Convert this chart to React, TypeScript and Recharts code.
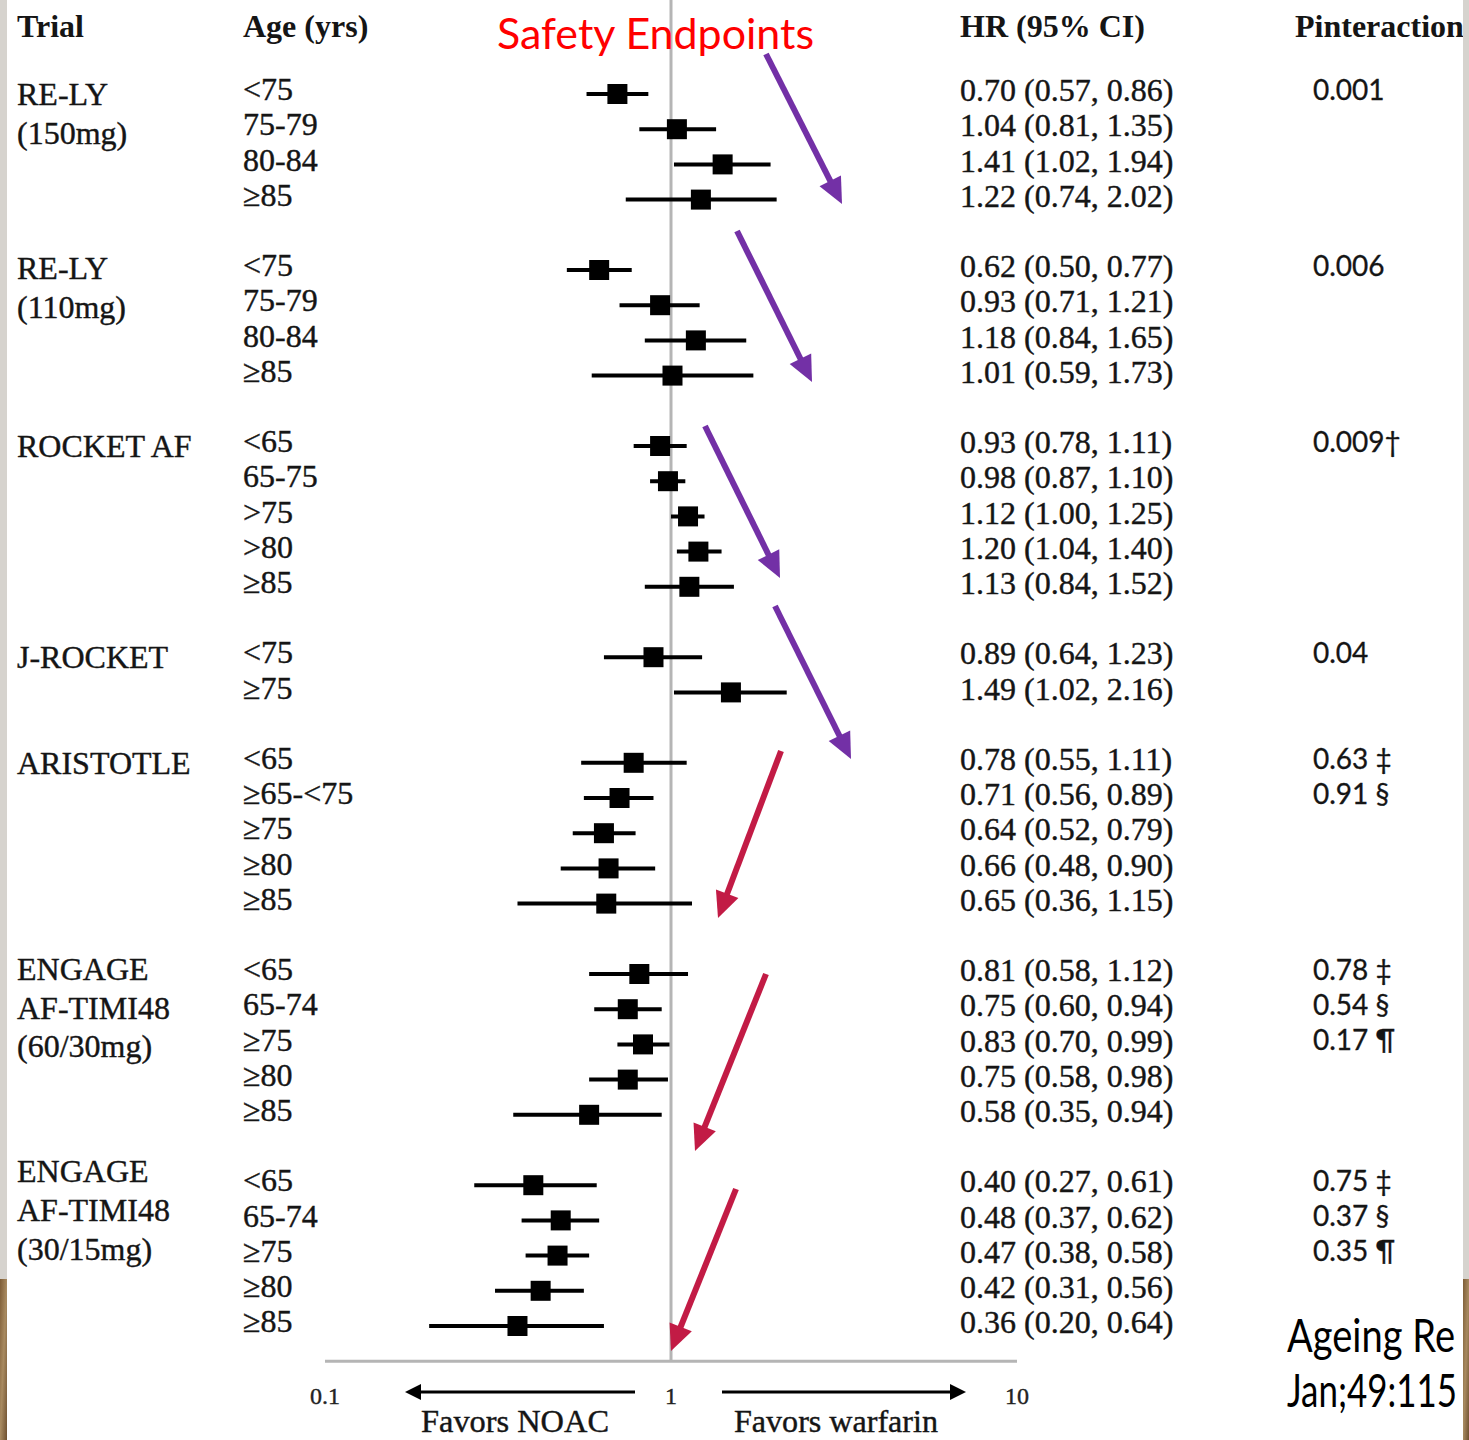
import React from "react";
import {
  ScatterChart,
  Scatter,
  XAxis,
  YAxis,
  ReferenceLine,
  ErrorBar,
} from "recharts";

// one entry per trial, in drawing order
const trialNames = [
  ["RE-LY", "(150mg)"],
  ["RE-LY", "(110mg)"],
  ["ROCKET AF"],
  ["J-ROCKET"],
  ["ARISTOTLE"],
  ["ENGAGE", "AF-TIMI48", "(60/30mg)"],
  ["ENGAGE", "AF-TIMI48", "(30/15mg)"],
];

const ageGroups = [
  ["<75", "75-79", "80-84", "≥85"],
  ["<75", "75-79", "80-84", "≥85"],
  ["<65", "65-75", ">75", ">80", "≥85"],
  ["<75", "≥75"],
  ["<65", "≥65-<75", "≥75", "≥80", "≥85"],
  ["<65", "65-74", "≥75", "≥80", "≥85"],
  ["<65", "65-74", "≥75", "≥80", "≥85"],
];

const hazardRatios = [
  [0.7, 1.04, 1.41, 1.22],
  [0.62, 0.93, 1.18, 1.01],
  [0.93, 0.98, 1.12, 1.2, 1.13],
  [0.89, 1.49],
  [0.78, 0.71, 0.64, 0.66, 0.65],
  [0.81, 0.75, 0.83, 0.75, 0.58],
  [0.4, 0.48, 0.47, 0.42, 0.36],
];

const ciLower = [
  [0.57, 0.81, 1.02, 0.74],
  [0.5, 0.71, 0.84, 0.59],
  [0.78, 0.87, 1.0, 1.04, 0.84],
  [0.64, 1.02],
  [0.55, 0.56, 0.52, 0.48, 0.36],
  [0.58, 0.6, 0.7, 0.58, 0.35],
  [0.27, 0.37, 0.38, 0.31, 0.2],
];

const ciUpper = [
  [0.86, 1.35, 1.94, 2.02],
  [0.77, 1.21, 1.65, 1.73],
  [1.11, 1.1, 1.25, 1.4, 1.52],
  [1.23, 2.16],
  [1.11, 0.89, 0.79, 0.9, 1.15],
  [1.12, 0.94, 0.99, 0.98, 0.94],
  [0.61, 0.62, 0.58, 0.56, 0.64],
];

const pInteraction = [
  ["0.001"],
  ["0.006"],
  ["0.009†"],
  ["0.04"],
  ["0.63 ‡", "0.91 §"],
  ["0.78 ‡", "0.54 §", "0.17 ¶"],
  ["0.75 ‡", "0.37 §", "0.35 ¶"],
];

const xTicks = [0.1, 1, 10];

// layout
const W = 1469;
const H = 1440;
const FIRST_ROW_Y = 94;
const ROW_STEP = 35.2;
const HEADER_ROW = -1.95;
const TRIAL_LINE = 1.1; // rows between lines of a trial name
const TRIAL_NUDGE = [0, -0.05, 0, 0, 0, -0.15, -0.4];
const SERIF = "'Liberation Serif', 'Times New Roman', serif";
const SANS = "Lato, 'Open Sans', sans-serif";
const INK = "#151515";

const COLS: Record<string, { x: number; size: number; font: string; bold?: boolean; dy: number; stroke?: number }> = {
  head: { x: 0, size: 32, font: SERIF, bold: true, dy: 0 },
  trial: { x: 17, size: 32, font: SERIF, dy: 0, stroke: 0.4 },
  age: { x: 243, size: 32, font: SERIF, dy: -5, stroke: 0.4 },
  hr: { x: 960, size: 32, font: SERIF, dy: -4, stroke: 0.4 },
  p: { x: 1313, size: 28, font: SANS, dy: -4, stroke: 0.3 },
};

const HEADERS = [
  { text: "Trial", x: 17 },
  { text: "Age (yrs)", x: 243 },
  { text: "HR (95% CI)", x: 960 },
  { text: "Pinteraction", x: 1295 },
];

// build row tables
const groupStart: number[] = [];
let next = 0;
ageGroups.forEach((g) => {
  groupStart.push(next);
  next += g.length + 1;
});

const markers = hazardRatios.flatMap((g, gi) =>
  g.map((hr, i) => ({
    x: hr,
    y: groupStart[gi] + i,
    err: [hr - ciLower[gi][i], ciUpper[gi][i] - hr],
  }))
);

const fmt = (v: number) => v.toFixed(2);

const labels = [
  ...HEADERS.map((h) => ({ x: 1, y: HEADER_ROW, text: h.text, col: "head", hx: h.x })),
  ...trialNames.flatMap((lines, gi) =>
    lines.map((t, li) => ({
      x: 1,
      y: groupStart[gi] + TRIAL_NUDGE[gi] + li * TRIAL_LINE,
      text: t,
      col: "trial",
    }))
  ),
  ...ageGroups.flatMap((g, gi) =>
    g.map((a, i) => ({ x: 1, y: groupStart[gi] + i, text: a, col: "age" }))
  ),
  ...hazardRatios.flatMap((g, gi) =>
    g.map((hr, i) => ({
      x: 1,
      y: groupStart[gi] + i,
      text: `${fmt(hr)} (${fmt(ciLower[gi][i])}, ${fmt(ciUpper[gi][i])})`,
      col: "hr",
    }))
  ),
  ...pInteraction.flatMap((g, gi) =>
    g.map((p, i) => ({ x: 1, y: groupStart[gi] + i, text: p, col: "p" }))
  ),
];

const SquareMarker = (props: any) => {
  const { cx, cy } = props;
  if (cx == null || cy == null) return null;
  return <rect x={cx - 10} y={cy - 10} width={20} height={20} fill="#000" />;
};

const TextLabel = (props: any) => {
  const { cy, payload } = props;
  if (cy == null) return null;
  const c = COLS[payload.col];
  return (
    <text
      x={payload.hx ?? c.x}
      y={cy + c.dy}
      dy="0.35em"
      fontFamily={c.font}
      fontSize={c.size}
      fontWeight={c.bold ? 700 : 400}
      fill={INK}
      stroke={c.stroke ? INK : undefined}
      strokeWidth={c.stroke}
    >
      {payload.text}
    </text>
  );
};

const AxisTick = ({ x, y, payload }: any) => (
  <text
    x={x}
    y={y + 43}
    textAnchor="middle"
    fontFamily={SERIF}
    fontSize={24}
    fill="#222"
    stroke="#222"
    strokeWidth={0.4}
  >
    {payload.value}
  </text>
);

// slide annotations (pixel space)
const PURPLE = "#7330a6";
const CRIMSON = "#c21b45";
const ANNOTATIONS = [
  { x1: 766, y1: 54, x2: 842, y2: 204, c: PURPLE },
  { x1: 737, y1: 231, x2: 812, y2: 382, c: PURPLE },
  { x1: 705, y1: 426, x2: 780, y2: 578, c: PURPLE },
  { x1: 775, y1: 606, x2: 851, y2: 759, c: PURPLE },
  { x1: 781, y1: 751, x2: 718, y2: 918, c: CRIMSON },
  { x1: 766, y1: 974, x2: 695, y2: 1151, c: CRIMSON },
  { x1: 736, y1: 1189, x2: 671, y2: 1351, c: CRIMSON },
];

function Arrow({ x1, y1, x2, y2, color, w, head, half }: any) {
  const len = Math.hypot(x2 - x1, y2 - y1);
  const ux = (x2 - x1) / len;
  const uy = (y2 - y1) / len;
  const bx = x2 - ux * head;
  const by = y2 - uy * head;
  return (
    <g>
      <line x1={x1} y1={y1} x2={bx + ux * 2} y2={by + uy * 2} stroke={color} strokeWidth={w} />
      <polygon
        points={`${x2},${y2} ${bx - uy * half},${by + ux * half} ${bx + uy * half},${by - ux * half}`}
        fill={color}
      />
    </g>
  );
}

export default function App() {
  return (
    <div style={{ position: "absolute", left: 0, top: 0, width: W, height: H, background: "#fff" }}>
      <ScatterChart
        width={W}
        height={H}
        margin={{ top: 0, right: 452, bottom: 48.8, left: 325 }}
      >
        <XAxis
          type="number"
          dataKey="x"
          scale="log"
          domain={[0.1, 10]}
          ticks={xTicks}
          height={30}
          tickSize={0}
          tickMargin={0}
          tickLine={false}
          axisLine={{ stroke: "#b5b5b5", strokeWidth: 3 }}
          tick={<AxisTick />}
        />
        <YAxis
          type="number"
          dataKey="y"
          domain={[-FIRST_ROW_Y / ROW_STEP, 36]}
          reversed
          hide
        />
        <ReferenceLine x={1} stroke="#b5b5b5" strokeWidth={3} />
        <Scatter data={markers} shape={<SquareMarker />} isAnimationActive={false}>
          <ErrorBar dataKey="err" direction="x" width={0} strokeWidth={4} stroke="#000" />
        </Scatter>
        <Scatter data={labels} shape={<TextLabel />} isAnimationActive={false} />
      </ScatterChart>

      <svg
        width={W}
        height={H}
        style={{ position: "absolute", left: 0, top: 0, pointerEvents: "none" }}
      >
        <defs>
          <linearGradient id="wood" x1="0" y1="0" x2="1" y2="1">
            <stop offset="0" stopColor="#7d5c36" />
            <stop offset="0.5" stopColor="#a88a60" />
            <stop offset="1" stopColor="#6e5030" />
          </linearGradient>
        </defs>

        <text x={497} y={49} fontFamily={SANS} fontSize={42} fill="#ff0000" textLength={317} lengthAdjust="spacingAndGlyphs">
          Safety Endpoints
        </text>

        {ANNOTATIONS.map((a, i) => (
          <Arrow key={i} x1={a.x1} y1={a.y1} x2={a.x2} y2={a.y2} color={a.c} w={6} head={26} half={12} />
        ))}

        <Arrow x1={635} y1={1392} x2={405} y2={1392} color="#000" w={3} head={16} half={8} />
        <Arrow x1={722} y1={1392} x2={966} y2={1392} color="#000" w={3} head={16} half={8} />
        <text x={421} y={1432} fontFamily={SERIF} fontSize={31} fill={INK} stroke={INK} strokeWidth={0.4} textLength={188} lengthAdjust="spacingAndGlyphs">
          Favors NOAC
        </text>
        <text x={734} y={1432} fontFamily={SERIF} fontSize={31} fill={INK} stroke={INK} strokeWidth={0.4} textLength={204} lengthAdjust="spacingAndGlyphs">
          Favors warfarin
        </text>

        <text x={1287} y={1352} fontFamily={SANS} fontSize={46} fill="#000" textLength={168} lengthAdjust="spacingAndGlyphs">
          Ageing Re
        </text>
        <text x={1287} y={1407} fontFamily={SANS} fontSize={46} fill="#000" textLength={170} lengthAdjust="spacingAndGlyphs">
          Jan;49:115
        </text>

        <rect x={0} y={0} width={7} height={1279} fill="#d6d3ce" />
        <rect x={0} y={1279} width={7} height={H - 1279} fill="url(#wood)" />
        <rect x={1463} y={0} width={6} height={1279} fill="#d6d3ce" />
        <rect x={1463} y={1279} width={6} height={H - 1279} fill="url(#wood)" />
      </svg>
    </div>
  );
}
